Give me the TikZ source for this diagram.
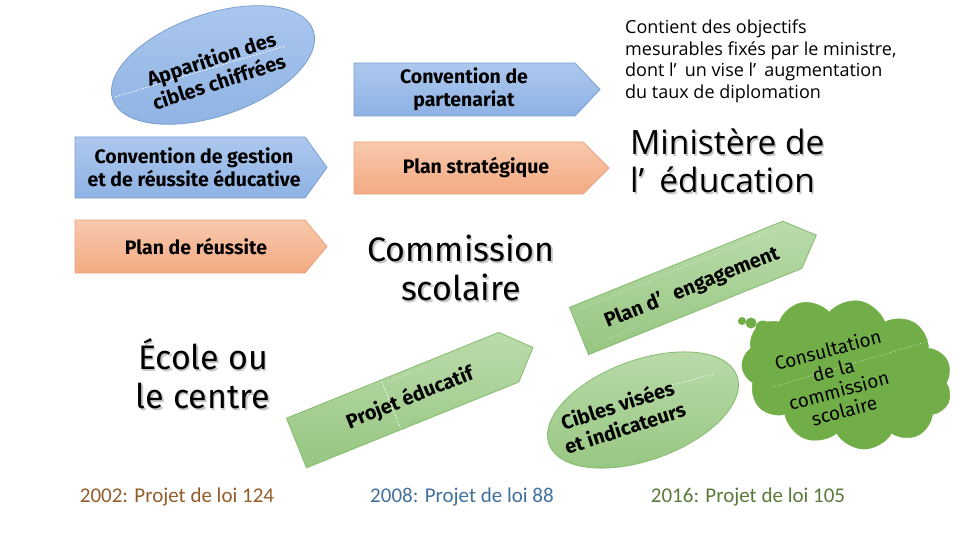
\documentclass[tikz,border=0pt]{standalone}
\usepackage{fontspec}
\setmainfont{Fira Sans}
\newfontfamily\boxf{Fira Sans}
\newfontfamily\msf{Open Sans}
\newfontfamily\calf{Carlito}
\usetikzlibrary{shapes.geometric,shapes.symbols}
\definecolor{bluetop}{HTML}{ADC8EE}
\definecolor{bluebot}{HTML}{8DB2E3}
\definecolor{blueline}{HTML}{7C9FD2}
\definecolor{ortop}{HTML}{F8C9AC}
\definecolor{orbot}{HTML}{F3AA84}
\definecolor{orline}{HTML}{E9A27C}
\definecolor{grtop}{HTML}{BBDBAB}
\definecolor{grbot}{HTML}{96C680}
\definecolor{grline}{HTML}{86BB6E}
\definecolor{cloudg}{HTML}{71AE48}
\definecolor{brownt}{HTML}{935D2B}
\definecolor{bluet}{HTML}{41719C}
\definecolor{greent}{HTML}{5A7A3A}
\tikzset{
  boxtext/.style={font=\boxf\bfseries\fontsize{19.5}{23}\selectfont, align=center, text=black, inner sep=0pt},
  rottext/.style={font=\boxf\bfseries\fontsize{20}{24}\selectfont, align=center, text=black, inner sep=0pt},
  blueshape/.style={top color=bluetop, bottom color=bluebot, draw=blueline, line width=0.8pt},
  orshape/.style={top color=ortop, bottom color=orbot, draw=orline, line width=0.8pt},
  grshape/.style={top color=grtop, bottom color=grbot, draw=grline, line width=0.8pt},
  bigtext/.style={font=\boxf\fontsize{34}{39}\selectfont, inner sep=0pt},
  shadowtext/.style={bigtext, text=black!22},
  yeartext/.style={font=\calf\fontsize{21}{24}\selectfont, inner sep=0pt},
  wdash/.style={white, dashed, dash pattern=on 2pt off 1.5pt, line width=0.6pt},
}
\begin{document}
\begin{tikzpicture}[x=1pt,y=-1pt]
\useasboundingbox (0,0) rectangle (960,540);
\fill[white] (0,0) rectangle (960,540);

% top-left ellipse
\node[ellipse, rotate=19, minimum width=212, minimum height=102, blueshape, inner sep=0pt] (ell1) at (213,65) {};
\draw[wdash] (115,97) -- (285,46);
\node[rottext, rotate=18] (ell1t) at (215,70) {Apparition des\\cibles chiffrées};

% blue / orange arrows
\draw[blueshape] (354,63) -- (575,63) -- (600,89.5) -- (575,116) -- (354,116) -- cycle;
\node[boxtext] (cpt) at (464,89) {Convention de\\partenariat};
\draw[orshape] (354,142) -- (583,142) -- (609,168) -- (583,194) -- (354,194) -- cycle;
\node[boxtext] (pst) at (476,168) {Plan stratégique};
\draw[blueshape] (75,137) -- (305,137) -- (327,167.5) -- (305,198) -- (75,198) -- cycle;
\node[boxtext] (cgt) at (194,167) {Convention de gestion\\et de réussite éducative};
\draw[orshape] (75,220) -- (305,220) -- (327,246.5) -- (305,273) -- (75,273) -- cycle;
\node[boxtext] (prt) at (196,247) {Plan de réussite};

% big labels with shadow
\node[shadowtext, align=center] (coms) at (462.5,269.5) {Commission\\scolaire};
\node[bigtext, align=center] (com) at (461,268) {Commission\\scolaire};
\node[shadowtext, align=left, anchor=west, font=\msf\fontsize{33.5}{38}\selectfont] (mins) at (631.5,162.5) {Ministère de\\l’\hspace{0.45em}éducation};
\node[bigtext, align=left, anchor=west, font=\msf\fontsize{33.5}{38}\selectfont] (min) at (630,161) {Ministère de\\l’\hspace{0.45em}éducation};
\node[shadowtext, align=center] (ecos) at (204.5,375.5) {École ou\\le centre};
\node[bigtext, align=center] (eco) at (203,374) {École ou\\le centre};

% description
\node[anchor=north west, align=left, inner sep=0pt, font=\msf\fontsize{18}{21.5}\selectfont] (desc) at (625,20) {Contient des objectifs\\mesurables fixés par le ministre,\\dont l’\hspace{0.45em}un vise l’\hspace{0.45em}augmentation\\du taux de diplomation};

% green arrow: Projet educatif
\begin{scope}[shift={(296.5,443)}, rotate=22]
  \draw[grshape] (0,-26.75) -- (229,-26.75) -- (255,0) -- (229,26.75) -- (0,26.75) -- cycle;
  \draw[wdash] (102,-25) -- (102,25);
  \draw[white, dotted, line width=0.5pt] (108,-22) -- (150,-22);
\end{scope}
\node[rottext, rotate=22] (pet) at (410,398) {Projet éducatif};

% green arrow: Plan d'engagement
\begin{scope}[shift={(579,331)}, rotate=22]
  \draw[grshape] (0,-25.5) -- (230,-25.5) -- (256,0) -- (230,25.5) -- (0,25.5) -- cycle;
  \draw[white, dotted, line width=0.5pt] (10,-20) -- (220,-20);
  \draw[white, dotted, line width=0.5pt] (10,18) -- (60,18);
\end{scope}
\node[rottext, rotate=22] (pdt) at (692,288) {Plan d’\hspace{0.6em}engagement};

% cibles ellipse
\node[ellipse, rotate=20, minimum width=200, minimum height=100, grshape, inner sep=0pt] (ell2) at (643,410) {};
\draw[wdash] (668,386) -- (714,374);
\node[rottext, rotate=18] (ell2t) at (621,416) {Cibles visées\\et indicateurs};

% cloud
\fill[cloudg] (742,321) circle (4);
\fill[cloudg] (751,323) circle (5.5);
\fill[cloudg] (763,328) circle (7.5);
\node[cloud, cloud puffs=11, cloud puff arc=120, aspect=1.5, minimum width=212, minimum height=148, fill=cloudg, draw=cloudg, rotate=-10, inner sep=0pt] (cld) at (847,374) {};
\draw[white, dotted, line width=0.6pt] (773,387) -- (943,337);
\node[rotate=15, align=center, inner sep=0pt, font=\boxf\fontsize{19}{21}\selectfont] (cldt) at (836,380) {Consultation\\de la\\commission\\scolaire};

% years
\node[yeartext, text=brownt] (y1) at (177,497) {2002: Projet de loi 124};
\node[yeartext, text=bluet] (y2) at (462,497) {2008: Projet de loi 88};
\node[yeartext, text=greent] (y3) at (748,497) {2016: Projet de loi 105};
\end{tikzpicture}
\end{document}
